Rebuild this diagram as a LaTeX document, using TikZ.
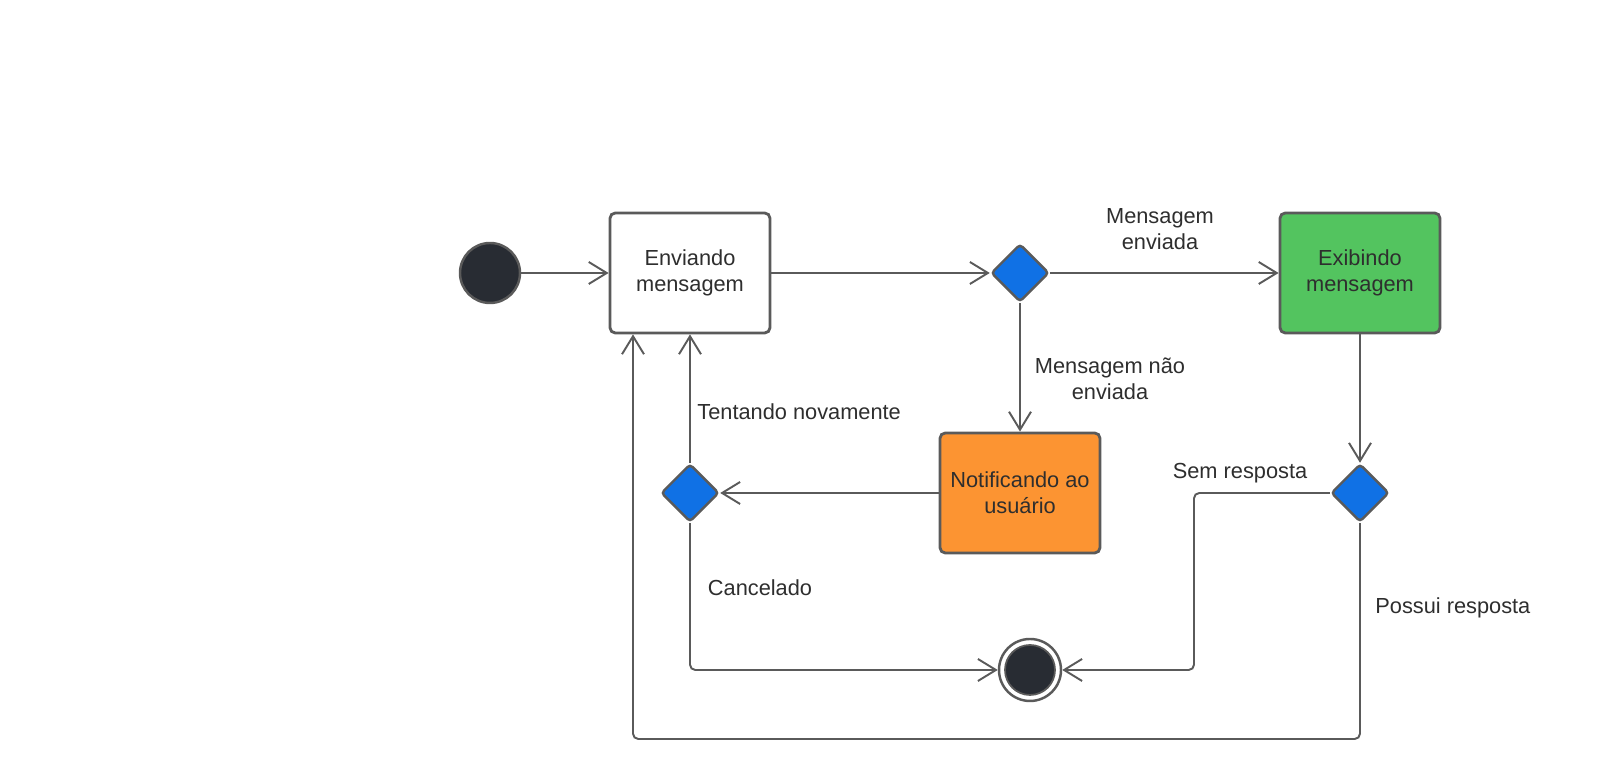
\documentclass[tikz,border=0pt]{standalone}
\usepackage{fontspec}
\setmainfont{Liberation Sans}
\usetikzlibrary{arrows.meta,calc,positioning,shapes.geometric}
\definecolor{linegray}{HTML}{5A5A5A}
\definecolor{txtgray}{HTML}{2E2E2E}
\definecolor{stdark}{HTML}{282C33}
\definecolor{decblue}{HTML}{1071E5}
\definecolor{okgreen}{HTML}{53C45F}
\definecolor{warnorange}{HTML}{FC9432}
\newcommand{\labfont}{\fontsize{12.4}{14.8}\selectfont}
\tikzset{
  state/.style    = {draw=linegray, line width=1.6pt, minimum width=3.2cm, minimum height=2.4cm,
                     rounded corners=3pt, align=center, text=txtgray, font=\labfont},
  decision/.style = {diamond, draw=linegray, line width=1.4pt, fill=decblue, minimum width=1.16cm,
                     minimum height=1.16cm, inner sep=0pt, rounded corners=2pt},
  startst/.style  = {circle, draw=linegray, line width=1.4pt, fill=stdark, minimum size=1.2cm, inner sep=0pt},
  endring/.style  = {circle, draw=linegray, line width=1.4pt, fill=white, minimum size=1.24cm, inner sep=0pt},
  endcore/.style  = {circle, draw=linegray, line width=1pt, fill=stdark, minimum size=1.0cm, inner sep=0pt},
  flow/.style     = {draw=linegray, line width=1.1pt, rounded corners=3pt,
                     -{Straight Barb[length=3.6mm,width=4.4mm,line width=1.1pt]}},
  lbl/.style      = {text=txtgray, font=\labfont, align=center, inner sep=0pt},
}

\begin{document}
\begin{tikzpicture}[x=1cm,y=1cm]
  \useasboundingbox (0,0) rectangle (32.2,15.6);
  % states
  \node[startst] (start) at (9.8,10.14) {};
  \node[state, fill=white] (env) at (13.8,10.14) {Enviando\\mensagem};
  \node[decision] (dec1) at (20.4,10.14) {};
  \node[state, fill=okgreen] (exib) at (27.2,10.14) {Exibindo\\mensagem};
  \node[state, fill=warnorange] (notif) at (20.4,5.74) {Notificando ao\\usuário};
  \node[decision] (dec2) at (13.8,5.74) {};
  \node[decision] (dec3) at (27.2,5.74) {};
  \node[endring] (fin) at (20.6,2.2) {};
  \node[endcore] (fincore) at (fin) {};
  \coordinate (semturn) at (23.88,5.74);
  \coordinate (loopR) at (27.2,0.82);
  \coordinate (loopL) at (12.66,0.82);
  % transitions
  \draw[flow] (start) -- (env);
  \draw[flow] (env) -- (dec1);
  \draw[flow] (dec1) -- (exib);
  \draw[flow] (dec1) -- (notif);
  \draw[flow] (exib) -- (dec3);
  \draw[flow] (notif) -- (dec2);
  \draw[flow] (dec2) -- (env);
  \draw[flow] (dec2.south) |- (fin.west);
  \draw[flow] (dec3.west) -- (semturn) |- (fin.east);
  \draw[flow] (dec3.south) -- (loopR) -- (loopL) -- (loopL |- env.south);
  % guards
  \node[lbl] (lenv) at (23.2,11.02) {Mensagem\\enviada};
  \node[lbl] (lnenv) at (22.2,8.02) {Mensagem não\\enviada};
  \node[lbl, anchor=west] (ltent) at (13.94,7.36) {Tentando novamente};
  \node[lbl] (lsem) at (24.8,6.14) {Sem resposta};
  \node[lbl] (lcanc) at (15.2,3.84) {Cancelado};
  \node[lbl, anchor=west] (lposs) at (27.5,3.44) {Possui resposta};
\end{tikzpicture}
\end{document}
